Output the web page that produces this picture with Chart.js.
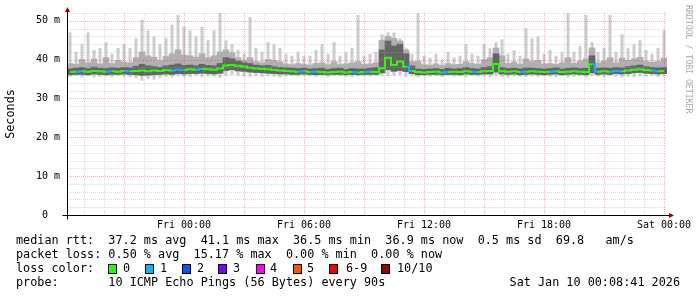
<!DOCTYPE html>
<html>
<head>
<meta charset="utf-8">
<script src="https://cdn.jsdelivr.net/npm/chart.js@4.4.1/dist/chart.umd.min.js"></script>
<style>
  html, body { margin: 0; padding: 0; background: #fff; }
  canvas { display: block; }
</style>
</head>
<body>
<canvas id="chart" width="697" height="297"></canvas>
<script>
// Time axis: hours relative to Fri 00:00, one sample every 18 minutes
const startHour = -5.85;
const stepHours = 0.3;

// Round trip times in ms
const minRtt = [
  35.6, 35.8, 35.5, 35.7, 35.4, 35.6, 35.7, 35.5, 35.8, 35.6,
  35.5, 35.2, 34.6, 35.0, 34.8, 35.3, 35.6, 35.4, 35.7, 35.5,
  35.6, 35.8, 35.5, 35.7, 35.6, 35.3, 35.9, 36.0, 35.8, 35.7,
  35.6, 35.8, 35.5, 35.7, 35.6, 35.4, 35.7, 35.8, 35.6, 35.7,
  35.8, 35.6, 35.7, 35.5, 35.8, 35.7, 35.6, 35.5, 35.8, 35.7,
  35.6, 35.8, 35.9, 35.7, 35.8, 36.0, 35.6, 35.7, 35.5, 35.8,
  35.6, 35.7, 35.5, 35.8, 35.6, 35.7, 35.5, 35.8, 35.6, 35.7,
  35.5, 35.8, 35.6, 35.4, 35.7, 35.6, 35.5, 35.7, 35.6, 35.8,
  35.6, 35.5, 35.7, 35.4, 35.6, 35.7, 35.5, 35.8, 35.6, 35.5,
  35.7, 35.6, 35.4, 35.6, 35.5, 35.7, 35.6, 35.8, 35.5, 35.7
];
const lowRtt = [
  36.1, 36.2, 36.2, 36.1, 36.3, 36.2, 36.1, 36.2, 36.2, 36.3,
  36.2, 36.1, 35.9, 36.0, 36.1, 36.2, 36.3, 36.2, 36.4, 36.3,
  36.4, 36.4, 36.5, 36.4, 36.3, 36.5, 37.2, 37.4, 37.1, 37.0,
  36.8, 36.7, 36.6, 36.5, 36.4, 36.3, 36.3, 36.2, 36.2, 36.3,
  36.2, 36.1, 36.2, 36.1, 36.2, 36.2, 36.1, 36.2, 36.1, 36.2,
  36.2, 36.2, 36.6, 37.4, 37.0, 37.2, 36.9, 36.4, 36.1, 36.1,
  36.2, 36.2, 36.1, 36.2, 36.2, 36.1, 36.3, 36.2, 36.2, 36.3,
  36.3, 36.8, 36.3, 36.2, 36.3, 36.1, 36.2, 36.3, 36.2, 36.1,
  36.2, 36.3, 36.1, 36.2, 36.3, 36.2, 36.1, 36.6, 36.2, 36.3,
  36.2, 36.4, 36.3, 36.4, 36.6, 36.7, 36.5, 36.4, 36.3, 36.4
];
const medianRtt = [
  36.8, 36.9, 37.0, 36.9, 37.1, 37.0, 36.9, 37.0, 36.9, 37.1,
  37.0, 37.1, 37.2, 37.0, 37.2, 37.1, 37.3, 37.2, 37.4, 37.3,
  37.5, 37.4, 37.6, 37.5, 37.4, 37.7, 38.5, 38.6, 38.4, 38.2,
  37.9, 37.7, 37.6, 37.5, 37.3, 37.2, 37.1, 37.0, 36.9, 37.0,
  36.8, 36.9, 36.8, 36.7, 36.8, 36.9, 36.7, 36.8, 36.7, 36.8,
  36.9, 36.8, 37.8, 40.5, 38.6, 39.5, 38.2, 37.1, 36.8, 36.7,
  36.8, 36.9, 36.7, 36.8, 36.9, 36.8, 37.0, 36.9, 36.8, 37.0,
  37.1, 38.9, 37.0, 36.9, 37.0, 36.8, 36.9, 37.0, 36.9, 36.8,
  36.9, 37.0, 36.8, 36.9, 37.0, 36.9, 36.8, 38.8, 36.9, 37.0,
  36.9, 37.1, 37.0, 37.2, 37.4, 37.5, 37.3, 37.2, 37.0, 37.1
];
const coreRtt = [
  37.6, 37.8, 38.0, 37.7, 38.1, 37.8, 37.7, 37.9, 37.8, 38.0,
  37.9, 38.3, 38.8, 38.4, 38.2, 38.0, 38.4, 38.6, 38.9, 38.5,
  38.6, 38.4, 38.8, 38.5, 38.4, 39.0, 40.5, 40.2, 39.6, 39.2,
  39.0, 38.6, 38.4, 38.5, 38.2, 38.0, 37.9, 37.8, 37.7, 37.8,
  37.6, 37.7, 37.8, 37.5, 37.7, 37.8, 37.5, 37.7, 37.6, 37.6,
  37.8, 38.0, 42.5, 44.8, 43.5, 44.0, 41.5, 38.4, 37.6, 37.5,
  37.6, 37.7, 37.5, 37.8, 37.6, 37.7, 38.0, 37.7, 37.6, 38.0,
  38.2, 41.5, 38.0, 37.7, 37.8, 37.6, 37.9, 37.8, 37.7, 37.6,
  37.7, 37.9, 37.6, 37.8, 37.9, 37.7, 37.8, 41.0, 37.8, 37.9,
  37.8, 38.0, 37.9, 38.2, 38.4, 38.6, 38.2, 38.0, 37.9, 38.0
];
const highRtt = [
  39.0, 38.8, 40.0, 39.2, 40.2, 38.9, 40.5, 39.0, 39.8, 39.4,
  39.2, 40.5, 42.0, 41.0, 40.6, 39.8, 40.8, 41.5, 42.5, 41.2,
  41.0, 40.6, 41.5, 40.5, 41.0, 42.0, 42.5, 41.8, 40.5, 39.8,
  40.5, 39.5, 39.2, 40.0, 39.8, 39.4, 38.9, 38.7, 39.0, 38.8,
  38.6, 39.0, 39.2, 38.7, 39.5, 38.7, 38.9, 39.2, 39.5, 38.8,
  38.9, 39.2, 45.0, 46.0, 45.5, 44.8, 42.5, 39.5, 39.6, 38.7,
  38.6, 38.9, 38.5, 39.0, 38.7, 38.8, 39.5, 39.0, 38.8, 40.0,
  40.5, 43.0, 41.0, 39.0, 39.4, 38.8, 40.2, 39.5, 39.8, 38.9,
  39.0, 38.8, 39.2, 40.5, 39.0, 39.6, 40.2, 43.0, 39.2, 39.6,
  40.5, 39.2, 40.4, 39.8, 40.2, 40.6, 39.6, 39.3, 39.5, 40.4
];
const maxRtt = [
  47.0, 42.0, 44.0, 47.0, 42.5, 43.0, 44.5, 41.5, 43.0, 44.0,
  43.0, 45.5, 50.3, 47.5, 46.0, 44.0, 45.5, 49.0, 51.5, 48.5,
  47.5, 46.0, 48.5, 45.0, 47.5, 52.0, 45.0, 44.0, 42.5, 41.5,
  51.0, 43.0, 42.0, 44.5, 44.0, 43.0, 41.5, 41.0, 42.0, 41.0,
  41.0, 42.5, 44.0, 41.5, 44.5, 41.0, 42.0, 43.0, 51.5, 41.0,
  41.5, 42.0, 46.5, 47.0, 47.0, 45.5, 43.0, 41.5, 52.0, 41.0,
  40.5, 41.5, 40.0, 42.0, 40.5, 41.0, 44.0, 41.5, 41.0, 44.0,
  43.0, 44.5, 45.2, 41.5, 42.4, 41.0, 48.0, 45.5, 46.0, 41.5,
  42.5, 41.0, 42.0, 52.0, 42.0, 43.5, 51.5, 44.5, 42.0, 43.0,
  51.5, 42.0, 46.5, 43.0, 44.0, 45.0, 42.5, 41.5, 43.0, 47.5
];
// Lost pings (out of 10) per sample
const lossCount = [
  0, 1, 0, 0, 0, 0, 1, 0, 0, 1,
  0, 0, 0, 0, 0, 0, 0, 1, 1, 0,
  0, 1, 0, 0, 0, 0, 0, 0, 0, 0,
  0, 0, 0, 0, 0, 0, 0, 0, 1, 0,
  1, 0, 0, 0, 0, 0, 0, 1, 0, 1,
  0, 0, 0, 0, 0, 0, 1, 0, 0, 0,
  0, 0, 1, 0, 0, 0, 0, 1, 0, 0,
  0, 0, 0, 0, 0, 1, 0, 0, 0, 0,
  1, 0, 0, 0, 0, 0, 0, 1, 0, 0,
  1, 1, 0, 0, 0, 0, 0, 1, 0, 0
];

const timeTicks = [0, 6, 12, 18, 24];
const timeLabels = ["Fri 00:00", "Fri 06:00", "Fri 12:00", "Fri 18:00", "Sat 00:00"];
const rttTicks = [0, 10, 20, 30, 40, 50];
const rttLabels = ["0  ", "10 m", "20 m", "30 m", "40 m", "50 m"];

const lossColors = ["#26ff00", "#00b8ff", "#0059ff", "#7e00ff", "#ff00ff", "#ff5500", "#ff0000", "#a10000"];
const lossNames = ["0", "1", "2", "3", "4", "5", "6-9", "10/10"];

const statLines = [
  "median rtt:  37.2 ms avg  41.1 ms max  36.5 ms min  36.9 ms now  0.5 ms sd  69.8   am/s",
  "packet loss: 0.50 % avg  15.17 % max  0.00 % min  0.00 % now",
  "loss color:",
  "probe:       10 ICMP Echo Pings (56 Bytes) every 90s"
];
const stampText = "Sat Jan 10 00:08:41 2026";

// sample times
const hours = medianRtt.map((_, i) => startHour + stepHours * (i + 0.5));

function lossColor(n) {
  if (n >= 10) return lossColors[7];
  if (n >= 6) return lossColors[6];
  return lossColors[n];
}

const toBars = (lo, hi) => lo.map((v, i) => ({ x: hours[i], y: [v, hi[i]] }));

const MONO = '"DejaVu Sans Mono", "Liberation Mono", monospace';
const minorGrid = "rgba(170,170,170,0.42)";
const majorGrid = "rgba(235,70,70,0.42)";

// dotted rrdtool style grid, drawn over the smoke
const gridPlugin = {
  id: "rrdGrid",
  afterDatasetsDraw(chart) {
    const { ctx, chartArea: a, scales: { x, y } } = chart;
    ctx.save();
    ctx.lineWidth = 1;
    ctx.setLineDash([1, 1]);
    for (let h = Math.ceil(x.min); h <= x.max; h++) {
      const px = Math.round(x.getPixelForValue(h)) + 0.5;
      ctx.strokeStyle = h % 3 === 0 ? majorGrid : minorGrid;
      ctx.beginPath();
      ctx.moveTo(px, a.top);
      ctx.lineTo(px, a.bottom);
      ctx.stroke();
    }
    for (let v = 2; v <= y.max; v += 2) {
      const py = Math.round(y.getPixelForValue(v)) + 0.5;
      ctx.strokeStyle = v % 10 === 0 ? majorGrid : minorGrid;
      ctx.beginPath();
      ctx.moveTo(a.left, py);
      ctx.lineTo(a.right, py);
      ctx.stroke();
    }
    ctx.restore();
  }
};

// axes with arrows, legend block, labels
const framePlugin = {
  id: "rrdFrame",
  afterDraw(chart) {
    const { ctx, chartArea: a } = chart;
    const left = Math.round(a.left) + 0.5;
    const bottom = Math.round(a.bottom) + 0.5;
    ctx.save();
    ctx.setLineDash([]);
    ctx.lineWidth = 1;
    ctx.strokeStyle = "#000";
    ctx.beginPath();
    ctx.moveTo(left - 5, bottom);
    ctx.lineTo(a.right + 3, bottom);
    ctx.moveTo(left, bottom + 4);
    ctx.lineTo(left, a.top - 2);
    ctx.stroke();

    ctx.fillStyle = "#8b0000";
    ctx.beginPath();
    ctx.moveTo(left, a.top - 6);
    ctx.lineTo(left - 2.5, a.top - 1);
    ctx.lineTo(left + 2.5, a.top - 1);
    ctx.closePath();
    ctx.fill();
    ctx.beginPath();
    ctx.moveTo(a.right + 7, bottom);
    ctx.lineTo(a.right + 2, bottom - 2.5);
    ctx.lineTo(a.right + 2, bottom + 2.5);
    ctx.closePath();
    ctx.fill();

    // unit label
    ctx.fillStyle = "#000";
    ctx.font = "11.8px " + MONO;
    ctx.textAlign = "center";
    ctx.textBaseline = "middle";
    ctx.save();
    ctx.translate(11, 114);
    ctx.rotate(-Math.PI / 2);
    ctx.fillText("Seconds", 0, 0);
    ctx.restore();

    // watermark
    ctx.save();
    ctx.fillStyle = "#a8a8a8";
    ctx.font = "8.2px " + MONO;
    ctx.textAlign = "left";
    ctx.translate(688.5, 5);
    ctx.rotate(Math.PI / 2);
    ctx.fillText("RRDTOOL / TOBI OETIKER", 0, 0);
    ctx.restore();

    // legend text
    ctx.textAlign = "left";
    const rows = [241, 255, 268.5, 283];
    statLines.forEach((t, i) => ctx.fillText(t, 16, rows[i]));
    ctx.textAlign = "right";
    ctx.fillText(stampText, 680, rows[3]);

    // loss colour boxes
    const boxX = [108, 145, 182, 218, 256, 293, 329, 381];
    const nameX = [123, 160, 197, 233, 270, 307, 346, 397];
    ctx.textAlign = "left";
    lossColors.forEach((c, i) => {
      ctx.fillStyle = c;
      ctx.fillRect(boxX[i], 264, 8, 9);
      ctx.strokeStyle = "#000";
      ctx.strokeRect(boxX[i] + 0.5, 264.5, 8, 9);
      ctx.fillStyle = "#000";
      ctx.fillText(lossNames[i], nameX[i], rows[2]);
    });
    ctx.restore();
  }
};

new Chart(document.getElementById("chart"), {
  type: "bar",
  data: {
    datasets: [
      {
        type: "line",
        label: "median rtt",
        data: medianRtt.map((v, i) => ({ x: hours[i], y: v })),
        borderColor: lossColors[0],
        borderWidth: 2,
        pointRadius: 0,
        stepped: "middle",
        segment: { borderColor: c => lossColor(lossCount[c.p0DataIndex]) },
        order: 0
      },
      { label: "core", data: toBars(lowRtt, coreRtt), backgroundColor: "#646464", order: 1 },
      { label: "spread", data: toBars(lowRtt, highRtt), backgroundColor: "#b0b0b0", order: 2 },
      { label: "range", data: toBars(minRtt, maxRtt), backgroundColor: "#cdcdcd", barPercentage: 0.5, order: 3 }
    ]
  },
  options: {
    responsive: false,
    animation: false,
    devicePixelRatio: 1,
    layout: { padding: { left: 0, right: 30, top: 13, bottom: 62 } },
    datasets: { bar: { grouped: false, categoryPercentage: 1, barPercentage: 1 } },
    plugins: { legend: { display: false }, tooltip: { enabled: false } },
    scales: {
      x: {
        type: "linear",
        offset: false,
        min: startHour,
        max: startHour + stepHours * medianRtt.length,
        grid: { display: false, drawTicks: false },
        border: { display: false },
        afterFit: s => { s.height = 20; },
        afterBuildTicks: s => { s.ticks = timeTicks.map(v => ({ value: v })); },
        ticks: {
          autoSkip: false,
          maxRotation: 0,
          padding: 4,
          color: "#000",
          font: { family: MONO, size: 10 },
          callback: v => timeLabels[timeTicks.indexOf(v)]
        }
      },
      y: {
        type: "linear",
        min: 0,
        max: 52,
        grid: { display: false, drawTicks: false },
        border: { display: false },
        afterFit: s => { s.width = 67; },
        afterBuildTicks: s => { s.ticks = rttTicks.map(v => ({ value: v })); },
        ticks: {
          padding: 7,
          color: "#000",
          font: { family: MONO, size: 10 },
          callback: v => rttLabels[rttTicks.indexOf(v)]
        }
      }
    }
  },
  plugins: [gridPlugin, framePlugin]
});
</script>
</body>
</html>
